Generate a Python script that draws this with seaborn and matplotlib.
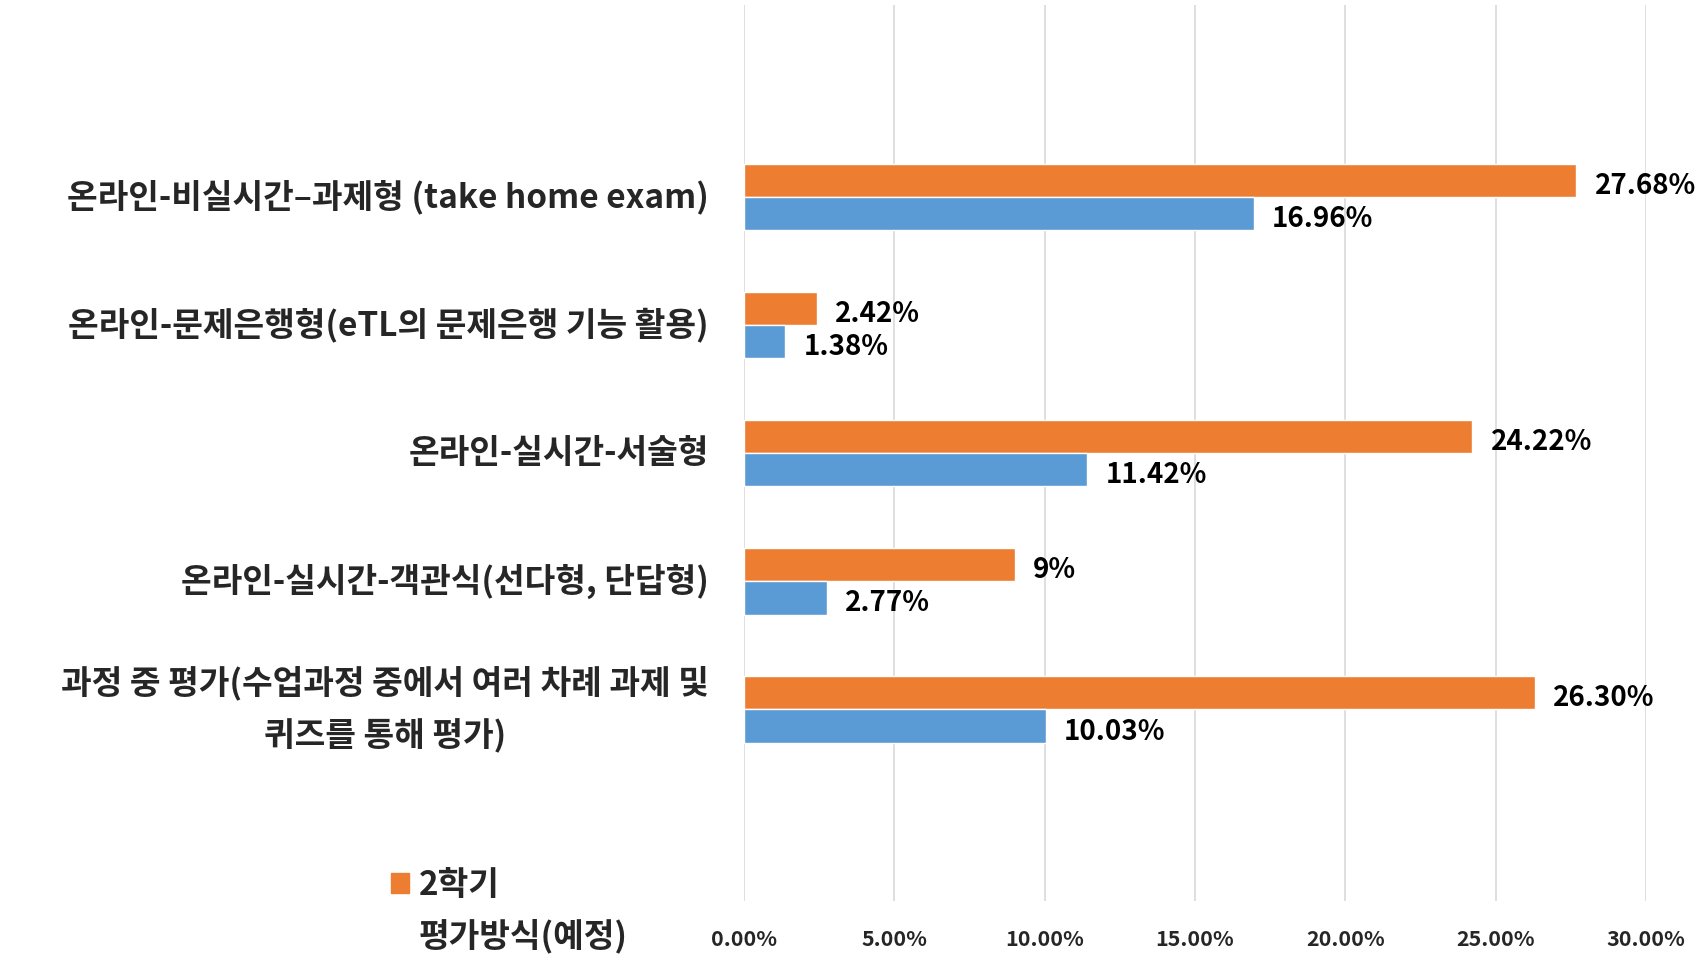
import matplotlib.pyplot as plt
import pandas as pd
import seaborn as sns
from matplotlib.patches import Patch
from matplotlib.ticker import FuncFormatter

categories = [
    "온라인-비실시간–과제형 (take home exam)",
    "온라인-문제은행형(eTL의 문제은행 기능 활용)",
    "온라인-실시간-서술형",
    "온라인-실시간-객관식(선다형, 단답형)",
    "과정 중 평가(수업과정 중에서 여러 차례 과제 및\n퀴즈를 통해 평가)",
]
series = ["2학기", "1학기"]
values_2nd = [27.68, 2.42, 24.22, 9.00, 26.30]
values_1st = [16.96, 1.38, 11.42, 2.77, 10.03]
labels_2nd = ["27.68%", "2.42%", "24.22%", "9%", "26.30%"]
labels_1st = ["16.96%", "1.38%", "11.42%", "2.77%", "10.03%"]
x_ticks = [0, 5, 10, 15, 20, 25, 30]

df = pd.DataFrame({
    "category": categories * 2,
    "series": [series[0]] * len(categories) + [series[1]] * len(categories),
    "value": values_2nd + values_1st,
})

sns.set_theme(style="white")
plt.rcParams["font.family"] = ["Noto Sans CJK KR", "DejaVu Sans"]
plt.rcParams["font.weight"] = "bold"

orange = "#ED7D31"
blue = "#5B9BD5"

fig = plt.figure(figsize=(17.06, 9.6), dpi=100)
ax = fig.add_axes([0.436, 0.061, 0.529, 0.934])

sns.barplot(data=df, x="value", y="category", hue="series", orient="h",
            palette=[orange, blue], width=0.52, saturation=1, ax=ax,
            legend=False)

# data labels, nudged slightly below bar centre like the original
for container, labs in zip(ax.containers, [labels_2nd, labels_1st]):
    texts = ax.bar_label(container, labels=labs, padding=13, fontsize=20,
                         fontweight="bold", color="black", clip_on=False)
    for t in texts:
        t.xyann = (13, -4)

ax.set_xlim(0, 30)
ax.set_ylim(len(categories) + 0.5, -1.5)
ax.set_xticks(x_ticks)
ax.xaxis.set_major_formatter(FuncFormatter(lambda v, p: f"{v:.2f}%"))
ax.grid(axis="x", color="#D9D9D9", linewidth=1.2)
ax.grid(axis="y", visible=False)
ax.set_axisbelow(True)
for s in ax.spines.values():
    s.set_visible(False)
ax.tick_params(axis="x", length=0, pad=20, labelsize=15.5)
ax.tick_params(axis="y", length=0, pad=25, labelsize=24)
for t in ax.get_yticklabels():
    t.set_fontweight("bold")
    t.set_multialignment("center")
    t.set_linespacing(1.65)
    t.set_verticalalignment("center")
for t in ax.get_xticklabels():
    t.set_fontweight("bold")
ax.set_xlabel("")
ax.set_ylabel("")

fig.legend(handles=[Patch(color=orange, label=series[0])],
           loc="center left", bbox_to_anchor=(0.229, 0.078),
           frameon=False, borderpad=0, borderaxespad=0,
           handlelength=0.55, handleheight=0.55, handletextpad=0.3,
           prop={"size": 24, "weight": "bold"})

fig.text(0.2456, 0.025, "평가방식(예정)", ha="left", va="center",
         fontsize=24, fontweight="bold")

fig.savefig("out.png", dpi=100)
